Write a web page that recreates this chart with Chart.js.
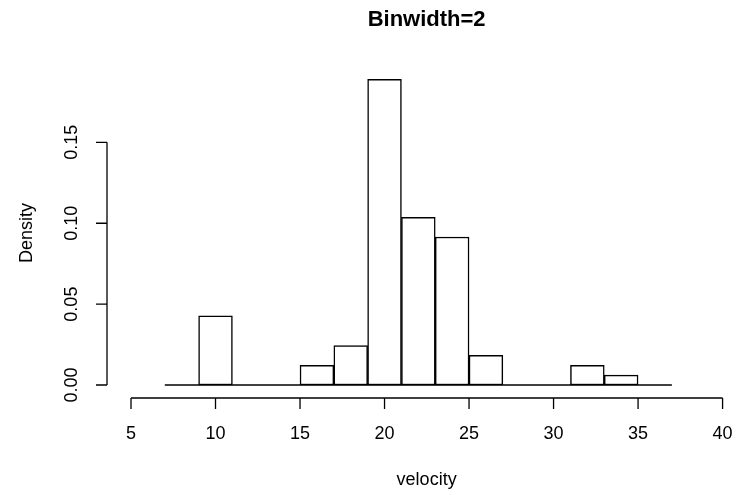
<!DOCTYPE html>
<html>
<head>
<meta charset="utf-8">
<script src="https://cdn.jsdelivr.net/npm/chart.js@4/dist/chart.umd.min.js"></script>
<style>
  html, body { margin: 0; padding: 0; background: #ffffff; }
  #wrap { width: 741px; height: 495px; }
</style>
</head>
<body>
<div id="wrap"><canvas id="hist" width="741" height="495"></canvas></div>
<script>
// Histogram of galaxy velocities (thousands of km/s), bins of width 2 from 7 to 37
const binCenters = [8, 10, 12, 14, 16, 18, 20, 22, 24, 26, 28, 30, 32, 34, 36];
const densities  = [0, 0.0427, 0, 0, 0.0122, 0.0244, 0.189, 0.1037, 0.0915, 0.0183, 0, 0, 0.0122, 0.0061, 0];
const baseRange  = [7, 37];
const xTicks     = [5, 10, 15, 20, 25, 30, 35, 40];
const yTicks     = [0, 0.05, 0.10, 0.15];
const yTickText  = ['0.00', '0.05', '0.10', '0.15'];
const titleText  = 'Binwidth=2';
const xTitle     = 'velocity';
const yTitle     = 'Density';

const FONT = '"Liberation Sans", Arial, Helvetica, sans-serif';
const INK = '#000000';

// R-style detached axes, titles and labels, drawn through the chart's scales
const baseAxes = {
  id: 'baseAxes',
  afterDraw(chart) {
    const ctx = chart.ctx;
    const xs = chart.scales.x, ys = chart.scales.y;
    const area = chart.chartArea;
    const tick = 11;
    ctx.save();
    ctx.strokeStyle = INK;
    ctx.fillStyle = INK;
    ctx.lineWidth = 1.3;

    // x axis
    const xy = area.bottom;
    ctx.beginPath();
    ctx.moveTo(xs.getPixelForValue(xTicks[0]), xy);
    ctx.lineTo(xs.getPixelForValue(xTicks[xTicks.length - 1]), xy);
    xTicks.forEach(v => {
      const px = xs.getPixelForValue(v);
      ctx.moveTo(px, xy);
      ctx.lineTo(px, xy + tick);
    });
    ctx.stroke();
    ctx.font = '18px ' + FONT;
    ctx.textAlign = 'center';
    ctx.textBaseline = 'alphabetic';
    xTicks.forEach(v => ctx.fillText(String(v), xs.getPixelForValue(v), 439));

    // y axis
    const yx = area.left;
    ctx.beginPath();
    ctx.moveTo(yx, ys.getPixelForValue(yTicks[0]));
    ctx.lineTo(yx, ys.getPixelForValue(yTicks[yTicks.length - 1]));
    yTicks.forEach(v => {
      const py = ys.getPixelForValue(v);
      ctx.moveTo(yx, py);
      ctx.lineTo(yx - tick, py);
    });
    ctx.stroke();
    yTicks.forEach((v, i) => {
      ctx.save();
      ctx.translate(77, ys.getPixelForValue(v));
      ctx.rotate(-Math.PI / 2);
      ctx.fillText(yTickText[i], 0, 0);
      ctx.restore();
    });

    // axis titles, centred on the plot region
    const midX = (area.left + xs.getPixelForValue(41.4)) / 2;
    ctx.fillText(xTitle, midX, 485);
    ctx.save();
    ctx.translate(31.5, 233);
    ctx.rotate(-Math.PI / 2);
    ctx.fillText(yTitle, 0, 0);
    ctx.restore();

    // main title
    ctx.font = 'bold 22px ' + FONT;
    ctx.fillText(titleText, midX, 26);
    ctx.restore();
  }
};

new Chart(document.getElementById('hist'), {
  type: 'bar',
  data: {
    datasets: [
      {
        // baseline under the whole bin range, drawn on top of the bars
        type: 'line',
        data: baseRange.map(x => ({ x: x, y: 0 })),
        borderColor: INK,
        borderWidth: 1.4,
        pointRadius: 0,
        fill: false,
        order: 0
      },
      {
        type: 'bar',
        data: binCenters.map((x, i) => ({ x: x, y: densities[i] })),
        backgroundColor: '#ffffff',
        borderColor: INK,
        borderWidth: ctx => (ctx.raw && ctx.raw.y > 0 ? 1.5 : 0),
        borderSkipped: false,
        barPercentage: 1,
        categoryPercentage: 1,
        order: 1
      }
    ]
  },
  options: {
    responsive: false,
    animation: false,
    devicePixelRatio: 1,
    layout: { padding: { left: 107, right: 0, top: 60, bottom: 97 } },
    plugins: {
      legend: { display: false },
      title: { display: false },
      tooltip: { enabled: false }
    },
    scales: {
      x: { type: 'linear', offset: false, min: 3.58, max: 41.09, display: false },
      y: { type: 'linear', min: -0.00803, max: 0.2009, display: false }
    }
  },
  plugins: [baseAxes]
});
</script>
</body>
</html>
